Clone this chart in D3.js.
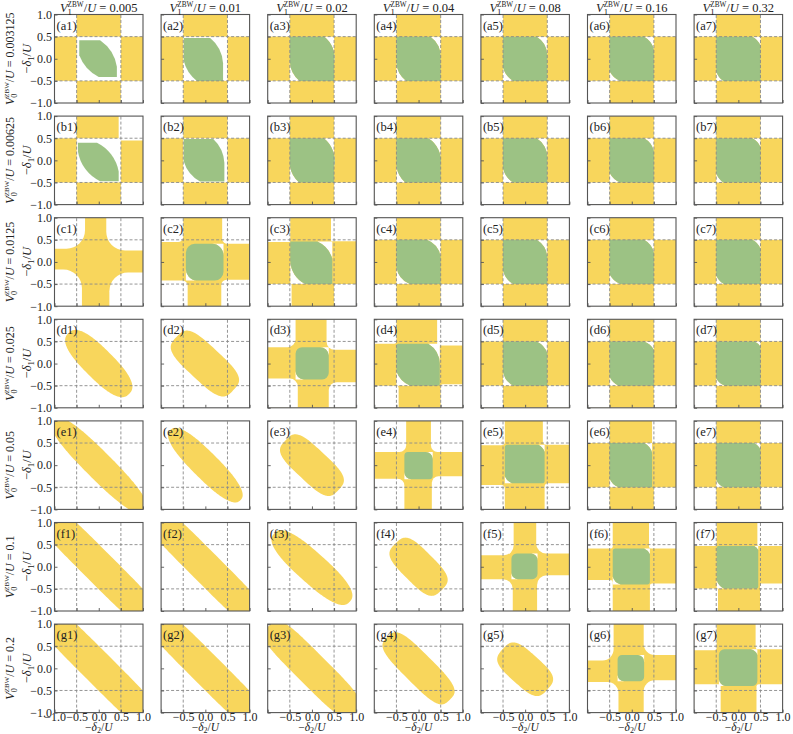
<!DOCTYPE html>
<html><head><meta charset="utf-8">
<script src="https://cdn.jsdelivr.net/npm/d3@7"></script>
<style>body{margin:0;background:#fff}svg text{font-family:"Liberation Serif","Times New Roman",serif;fill:#222}</style>
</head><body>
<svg id="chart" width="793" height="734"></svg>
<script>
const rowV0 = ["0.003125","0.00625","0.0125","0.025","0.05","0.1","0.2"];
const colV1 = ["0.005","0.01","0.02","0.04","0.08","0.16","0.32"];
const rowLetters = ["a","b","c","d","e","f","g"];
const tickValues = [-1, -0.5, 0, 0.5, 1];
const gridValues = [-0.5, 0.5];

// cross-type panels: band edges [vt0,vt1, vb0,vb1, hl0,hl1, hr0,hr1, cornerRadius]
const crossBands = {
  a1:[-0.5,0.5,-0.5,0.5,-0.5,0.5,-0.5,0.5,0], a2:[-0.5,0.5,-0.5,0.5,-0.5,0.5,-0.5,0.5,0],
  a3:[-0.5,0.5,-0.5,0.5,-0.5,0.5,-0.5,0.5,0], a4:[-0.5,0.5,-0.5,0.5,-0.5,0.5,-0.5,0.5,0],
  a5:[-0.5,0.5,-0.5,0.5,-0.5,0.5,-0.5,0.5,0], a6:[-0.5,0.5,-0.5,0.5,-0.5,0.5,-0.5,0.5,0],
  a7:[-0.5,0.5,-0.5,0.5,-0.5,0.5,-0.5,0.5,0],
  b1:[-0.5,0.45,-0.5,0.5,-0.5,0.5,-0.5,0.45,0.05], b2:[-0.5,0.5,-0.5,0.5,-0.5,0.5,-0.5,0.5,0],
  b3:[-0.5,0.5,-0.5,0.5,-0.5,0.5,-0.5,0.5,0], b4:[-0.5,0.5,-0.5,0.5,-0.5,0.5,-0.5,0.5,0],
  b5:[-0.5,0.5,-0.5,0.5,-0.5,0.5,-0.5,0.5,0], b6:[-0.5,0.5,-0.5,0.5,-0.5,0.5,-0.5,0.5,0],
  b7:[-0.5,0.5,-0.5,0.5,-0.5,0.5,-0.5,0.5,0],
  c1:[-0.31,0.17,-0.38,0.24,-0.17,0.3,-0.24,0.26,0.42],
  c2:[-0.5,0.38,-0.4,0.36,-0.42,0.45,-0.4,0.41,0.12],
  c3:[-0.49,0.43,-0.46,0.5,-0.5,0.45,-0.5,0.47,0.02],
  c4:[-0.5,0.5,-0.5,0.5,-0.5,0.5,-0.5,0.5,0], c5:[-0.5,0.5,-0.5,0.5,-0.5,0.5,-0.5,0.5,0],
  c6:[-0.5,0.5,-0.5,0.5,-0.5,0.5,-0.5,0.5,0], c7:[-0.5,0.5,-0.5,0.5,-0.5,0.5,-0.5,0.5,0],
  d3:[-0.37,0.33,-0.32,0.38,-0.34,0.37,-0.42,0.31,0.18],
  d4:[-0.5,0.42,-0.45,0.5,-0.5,0.45,-0.47,0.41,0.05],
  d5:[-0.5,0.5,-0.5,0.5,-0.5,0.5,-0.5,0.5,0], d6:[-0.5,0.5,-0.5,0.5,-0.5,0.5,-0.5,0.5,0],
  d7:[-0.5,0.5,-0.5,0.5,-0.5,0.5,-0.5,0.5,0],
  e4:[-0.28,0.28,-0.32,0.30,-0.31,0.30,-0.25,0.30,0.15],
  e5:[-0.46,0.4,-0.46,0.44,-0.45,0.45,-0.41,0.46,0.08],
  e6:[-0.5,0.46,-0.5,0.5,-0.5,0.5,-0.5,0.5,0], e7:[-0.5,0.5,-0.5,0.5,-0.5,0.5,-0.5,0.5,0],
  f5:[-0.26,0.25,-0.28,0.27,-0.28,0.26,-0.19,0.30,0.22],
  f6:[-0.43,0.39,-0.43,0.41,-0.3,0.41,-0.38,0.41,0.05],
  f7:[-0.49,0.43,-0.46,0.49,-0.49,0.47,-0.38,0.47,0.03],
  g6:[-0.41,0.27,-0.30,0.27,-0.31,0.18,-0.27,0.30,0.25],
  g7:[-0.49,0.39,-0.40,0.41,-0.36,0.41,-0.36,0.43,0.05]
};

// green regions: [gx0,gx1, gy0,gy1, cornerRadius,
//   topRightCut: topEdgeX, rightEdgeY, arcRadius,  bottomLeftCut: bottomEdgeX, leftEdgeY, arcRadius, whiteCentre]
const greenRegions = {
  a1:[-0.44,0.41,-0.41,0.42,0, 0.03,-0.18,0.9, 0.0,0.08,0.9, 1],
  a2:[-0.49,0.40,-0.50,0.47,0, 0.11,-0.10,0.8, -0.19,-0.04,0.8, 1],
  a3:[-0.5,0.5,-0.5,0.5,0, 0.28,-0.08,0.6, -0.28,-0.05,0.6, 0],
  a4:[-0.5,0.5,-0.5,0.5,0, 0.27,0.0,0.55, -0.28,-0.08,0.55, 0],
  a5:[-0.5,0.5,-0.5,0.5,0, 0.26,0.09,0.5, -0.27,-0.2,0.5, 0],
  a6:[-0.5,0.5,-0.5,0.5,0, 0.28,0.21,0.45, -0.26,-0.28,0.45, 0],
  a7:[-0.5,0.5,-0.5,0.5,0, 0.32,0.30,0.4, -0.34,-0.28,0.4, 0],
  b1:[-0.47,0.45,-0.47,0.40,0, -0.04,-0.25,0.9, 0.03,0.2,0.9, 1],
  b2:[-0.49,0.43,-0.48,0.48,0, 0.18,-0.06,0.8, -0.12,-0.02,0.8, 1],
  b3:[-0.5,0.5,-0.5,0.5,0, 0.27,-0.15,0.65, -0.29,-0.12,0.65, 0],
  b4:[-0.5,0.5,-0.5,0.5,0, 0.22,-0.1,0.6, -0.3,-0.12,0.6, 0],
  b5:[-0.5,0.5,-0.5,0.5,0, 0.26,0.05,0.5, -0.27,-0.18,0.5, 0],
  b6:[-0.5,0.5,-0.5,0.5,0, 0.28,0.21,0.45, -0.26,-0.28,0.45, 0],
  b7:[-0.5,0.5,-0.5,0.5,0, 0.32,0.3,0.4, -0.34,-0.28,0.4, 0],
  c2:[-0.44,0.41,-0.42,0.41,0.2, 0.15,0.15,0.26, -0.2,-0.15,0.26, 0],
  c3:[-0.49,0.46,-0.5,0.46,0, 0.12,0.07,0.6, -0.15,0.03,0.6, 0],
  c4:[-0.5,0.5,-0.5,0.5,0, 0.19,0.11,0.5, -0.2,-0.12,0.5, 0],
  c5:[-0.5,0.5,-0.5,0.5,0, 0.26,0.1,0.5, -0.27,-0.2,0.5, 0],
  c6:[-0.5,0.5,-0.5,0.5,0, 0.28,0.21,0.45, -0.26,-0.28,0.45, 0],
  c7:[-0.5,0.5,-0.5,0.5,0, 0.32,0.3,0.4, -0.33,-0.3,0.4, 0],
  d3:[-0.37,0.38,-0.36,0.37,0.15, 0.18,0.18,0.2, -0.18,-0.17,0.19, 0],
  d4:[-0.5,0.48,-0.5,0.45,0.04, 0.22,0.0,0.55, -0.19,-0.18,0.55, 0],
  d5:[-0.5,0.5,-0.5,0.5,0, 0.26,0.23,0.45, -0.27,-0.19,0.45, 0],
  d6:[-0.5,0.5,-0.5,0.5,0, 0.28,0.31,0.4, -0.3,-0.3,0.4, 0],
  d7:[-0.5,0.5,-0.5,0.5,0, 0.37,0.38,0.3, -0.3,-0.33,0.35, 0],
  e4:[-0.32,0.32,-0.32,0.30,0.08, 0.16,0.14,0.16, -0.16,-0.16,0.16, 0],
  e5:[-0.46,0.44,-0.41,0.46,0.06, 0.3,0.3,0.3, -0.3,-0.25,0.3, 0],
  e6:[-0.5,0.46,-0.5,0.5,0, 0.28,0.28,0.35, -0.3,-0.3,0.35, 0],
  e7:[-0.5,0.5,-0.5,0.5,0, 0.35,0.35,0.3, -0.33,-0.33,0.3, 0],
  f5:[-0.31,0.28,-0.28,0.30,0.12, 0.14,0.14,0.15, -0.15,-0.14,0.15, 0],
  f6:[-0.43,0.41,-0.4,0.41,0.06, 0.28,0.28,0.25, -0.25,-0.22,0.25, 0],
  f7:[-0.49,0.45,-0.49,0.47,0.04, 0.36,0.38,0.2, -0.33,-0.3,0.3, 0],
  g6:[-0.32,0.28,-0.29,0.30,0.1, 0.14,0.14,0.15, -0.17,-0.15,0.16, 0],
  g7:[-0.44,0.43,-0.4,0.43,0.12, 0.28,0.3,0.2, -0.3,-0.25,0.2, 0]
};

// diagonal (yellow only) regions: [cx, cy, halfLength, halfWidth, angle, roundness]
const diagRegions = {
  d1:[0,0,0.97,0.34,-45,2.6], d2:[-0.01,0,0.88,0.39,-43,3.5],
  e1:[0,0,1.5,0.31,-45,2.5], e2:[0,0,1.12,0.3,-45,2.5], e3:[0,0,0.82,0.37,-43,3.5],
  f1:[0,0,1.8,0.36,-45,4], f2:[0,0,1.8,0.35,-45,4], f3:[0,-0.02,1.15,0.34,-42,2.6],
  f4:[0,0,0.74,0.37,-45,3.5],
  g1:[0,0,1.8,0.36,-45,4], g2:[0,0,1.8,0.355,-45,4], g3:[0,-0.02,1.38,0.36,-45,4],
  g4:[0,0,1.0,0.34,-45,3.5], g5:[0,-0.02,0.68,0.37,-42,3.5]
};

const YEL = "#f8d65c", GRN = "#9cc284", FRAME = "#555", GRID = "#8a8a8a";
const FONT = "Liberation Serif, Times New Roman, serif";
const S = 88.5, X0 = 54.5, DX = 106.6, Y0 = 14.5, DY = 101.6;
const svg = d3.select("#chart").style("font-family", FONT);
const defs = svg.append("defs");
const fmt = d => (d < 0 ? "\u2212" : "") + Math.abs(d).toFixed(1);

function superPts(cx, cy, a, b, angDeg, n) {
  const t = angDeg * Math.PI / 180, m = [Math.cos(t), Math.sin(t)], p = [-Math.sin(t), Math.cos(t)];
  const N = 240, pts = [];
  for (let i = 0; i < N; i++) {
    const th = 2 * Math.PI * i / N, c = Math.cos(th), s = Math.sin(th);
    const v = a * Math.sign(c) * Math.pow(Math.abs(c), 2 / n);
    const u = b * Math.sign(s) * Math.pow(Math.abs(s), 2 / n);
    pts.push([cx + v * m[0] + u * p[0], cy + v * m[1] + u * p[1]]);
  }
  return pts;
}

function vLabel(t, sub, value, f) {
  t.append("tspan").attr("font-style", "italic").text("V");
  t.append("tspan").attr("font-size", 0.7 * f).attr("dy", 0.28 * f).text(sub);
  t.append("tspan").attr("font-size", 0.58 * f).attr("dx", -0.35 * f).attr("dy", -0.68 * f).text("ZBW");
  t.append("tspan").attr("dy", 0.40 * f).text("/");
  t.append("tspan").attr("font-style", "italic").text("U");
  t.append("tspan").text(" = " + value);
}
function dLabel(t, sub, f, subShift) {
  t.append("tspan").text("\u2212");
  t.append("tspan").attr("font-style", "italic").text("\u03b4");
  t.append("tspan").attr("font-size", 0.7 * f).attr("dy", subShift * f).text(sub);
  t.append("tspan").attr("dy", -subShift * f).text("/");
  t.append("tspan").attr("font-style", "italic").text("U");
}

rowLetters.forEach((L, r) => {
  colV1.forEach((v1, c) => {
    const id = L + (c + 1);
    const px = X0 + c * DX, py = Y0 + r * DY;
    const x = d3.scaleLinear().domain([-1, 1]).range([px, px + S]);
    const y = d3.scaleLinear().domain([-1, 1]).range([py + S, py]);
    const k = x(1) - x(0);
    const P = (a, b) => `${x(a)},${y(b)}`;
    const line = d3.line().x(d => x(d[0])).y(d => y(d[1])).curve(d3.curveLinearClosed);
    const drect = (sel, x0, x1, y0, y1, rr) => sel.append("rect")
      .attr("x", x(x0)).attr("y", y(y1)).attr("width", x(x1) - x(x0)).attr("height", y(y0) - y(y1))
      .attr("rx", (rr || 0) * k).attr("ry", (rr || 0) * k);

    const clipId = "clip-" + id;
    drect(defs.append("clipPath").attr("id", clipId), -1, 1, -1, 1, 0);
    const g = svg.append("g");
    const body = g.append("g").attr("clip-path", `url(#${clipId})`);

    const cb = crossBands[id];
    if (cb) {
      const [vt0, vt1, vb0, vb1, hl0, hl1, hr0, hr1, rq] = cb, E = 1.7;
      drect(body, -1, 1, -1, 1, 0).attr("fill", YEL);
      const wq = body.append("g").attr("fill", "#fff");
      drect(wq, -E, vt0, hl1, E, rq);
      drect(wq, vt1, E, hr1, E, rq);
      drect(wq, -E, vb0, -E, hl0, rq);
      drect(wq, vb1, E, -E, hr0, rq);
      const gr = greenRegions[id];
      if (gr) {
        const [gx0, gx1, gy0, gy1, r0, tx, ty, Rt, bx, by, Rb, cw] = gr;
        if (cw) drect(body, Math.min(vt0, vb0), Math.max(vt1, vb1), Math.min(hl0, hr0), Math.max(hl1, hr1), 0).attr("fill", "#fff");
        const A = (R, sw, a, b) => `A${R * k},${R * k} 0 0 ${sw} ${P(a, b)}`;
        body.append("path").attr("fill", "#fff")
          .attr("d", `M${P(tx, gy1)}H${x(gx1)}V${y(ty)}${A(Rt, 0, tx, gy1)}Z` +
                     `M${P(bx, gy0)}H${x(gx0)}V${y(by)}${A(Rb, 0, bx, gy0)}Z`);
        body.append("path").attr("fill", GRN)
          .attr("d", `M${P(gx0 + r0, gy1)}H${x(tx)}${A(Rt, 1, gx1, ty)}V${y(gy0 + r0)}${A(r0, 1, gx1 - r0, gy0)}` +
                     `H${x(bx)}${A(Rb, 1, gx0, by)}V${y(gy1 - r0)}${A(r0, 1, gx0 + r0, gy1)}Z`);
      }
    }
    const dg = diagRegions[id];
    if (dg) body.append("path").attr("d", line(superPts(...dg))).attr("fill", YEL);

    // dashed grid
    const gl = g.append("g").attr("stroke", GRID).attr("stroke-width", 0.9).attr("stroke-dasharray", "3,2");
    gridValues.forEach(v => {
      gl.append("line").attr("x1", x(v)).attr("x2", x(v)).attr("y1", y(-1)).attr("y2", y(1));
      gl.append("line").attr("y1", y(v)).attr("y2", y(v)).attr("x1", x(-1)).attr("x2", x(1));
    });

    // axes (inward ticks)
    const ay = g.append("g").attr("transform", `translate(${x(-1)},0)`)
      .call(d3.axisLeft(y).tickValues(tickValues).tickSize(-3).tickPadding(2.5)
        .tickFormat(c === 0 ? fmt : () => ""));
    const ax = g.append("g").attr("transform", `translate(0,${y(-1)})`)
      .call(d3.axisBottom(x).tickValues(tickValues).tickSize(-3)
        .tickFormat(r === rowLetters.length - 1 ? (d => (c > 0 && d === -1) ? "" : fmt(d)) : () => ""));
    [ay, ax].forEach(a => {
      a.attr("font-family", null);
      a.select(".domain").remove();
      a.selectAll(".tick line").attr("stroke", FRAME).attr("stroke-width", 0.9);
      a.selectAll(".tick text").style("font-family", FONT).attr("font-size", 12).attr("fill", "#222");
    });
    ax.selectAll(".tick text").attr("y", -0.3).attr("dy", "0.7em");

    drect(g, -1, 1, -1, 1, 0).attr("fill", "none").attr("stroke", FRAME).attr("stroke-width", 1.1);

    g.append("text").attr("x", x(-1) + 2).attr("y", y(1) + 15).attr("font-size", 12.5).attr("fill", "#333")
      .text("(" + id + ")");

    if (r === 0) {
      const t = svg.append("text").attr("x", (x(-1) + x(1)) / 2).attr("y", 11.5)
        .attr("text-anchor", "middle").attr("font-size", 12.5);
      vLabel(t, "1", v1, 12.5);
    }
    if (r === rowLetters.length - 1) {
      const t = svg.append("text").attr("x", (x(-1) + x(1)) / 2).attr("y", 731.3)
        .attr("text-anchor", "middle").attr("font-size", 11.5);
      dLabel(t, "2", 11.5, 0.14);
    }
    if (c === 0) {
      const cy = (y(-1) + y(1)) / 2;
      const t1 = svg.append("text").attr("transform", `translate(14,${cy}) rotate(-90)`)
        .attr("text-anchor", "middle").attr("font-size", 12);
      vLabel(t1, "0", rowV0[r], 12);
      const t2 = svg.append("text").attr("transform", `translate(31,${cy}) rotate(-90)`)
        .attr("text-anchor", "middle").attr("font-size", 12.5);
      dLabel(t2, "1", 12.5, 0.2);
    }
  });
});
</script>
</body></html>
